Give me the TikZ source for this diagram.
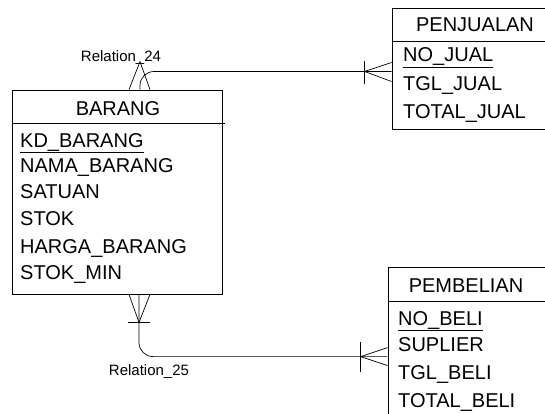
\documentclass[tikz,border=0pt]{standalone}
\usepackage{fontspec}
\setmainfont{Liberation Sans}
\tikzset{
  entity/.style={draw,rectangle,inner sep=0pt,line width=0.8pt},
  attr/.style={anchor=base west,inner sep=0pt,font=\fontsize{20}{22}\selectfont},
  etitle/.style={anchor=base,inner sep=0pt,font=\fontsize{20}{22}\selectfont},
  rlabel/.style={inner sep=0pt,font=\fontsize{15}{17}\selectfont},
  link/.style={line width=0.7pt,rounded corners=14pt},
  foot/.style={line width=0.7pt}
}
\begin{document}
\begin{tikzpicture}[x=1pt,y=-1pt]
\useasboundingbox (0,0) rectangle (545,414);
\clip (0,0) rectangle (545,414);
\node[entity,minimum width=210pt,minimum height=204pt] (barang) at (117,192) {};
\draw[line width=0.8pt] (12,123) -- (225,123);
\node[etitle] (barangt) at (118,116) {BARANG};
\node[attr] (kdbarang) at (20,147) {\underline{KD\_BARANG}};
\node[attr] (namabarang) at (20,172) {NAMA\_BARANG};
\node[attr] (satuan) at (20,198) {SATUAN};
\node[attr] (stok) at (20,225) {STOK};
\node[attr] (hargabarang) at (20,253) {HARGA\_BARANG};
\node[attr] (stokmin) at (20,279) {STOK\_MIN};
\node[entity,minimum width=168pt,minimum height=121pt] (penjualan) at (476,68.5) {};
\draw[line width=0.8pt] (392,41) -- (560,41);
\node[etitle] (penjualant) at (475,32) {PENJUALAN};
\node[attr] (nojual) at (403,62) {\underline{NO\_JUAL}};
\node[attr] (tgljual) at (403,91) {TGL\_JUAL};
\node[attr] (totaljual) at (403,119) {TOTAL\_JUAL};
\node[entity,minimum width=162pt,minimum height=173pt] (pembelian) at (469,353.5) {};
\draw[line width=0.8pt] (388,301) -- (550,301);
\node[etitle] (pembeliant) at (466,292) {PEMBELIAN};
\node[attr] (nobeli) at (398,325) {\underline{NO\_BELI}};
\node[attr] (suplier) at (398,351) {SUPLIER};
\node[attr] (tglbeli) at (398,379) {TGL\_BELI};
\node[attr] (totalbeli) at (398,407) {TOTAL\_BELI};
\coordinate (j24) at ([yshift=-3pt]penjualan.west);
\coordinate (b24) at ([xshift=23pt]barang.north);
\draw[link] (j24) -| (b24);
\draw[foot] ([xshift=-11pt]b24) -- ([yshift=28pt]b24) -- ([xshift=10pt]b24);
\draw[foot] ([yshift=9pt]j24) -- ([xshift=-27pt]j24) -- ([yshift=-10pt]j24);
\draw[foot] ([xshift=-27pt,yshift=10pt]j24) -- ([xshift=-27pt,yshift=-13pt]j24);
\node[rlabel] (rel24) at (121,58) {Relation\_24};
\coordinate (b25) at ([xshift=22pt]barang.south);
\coordinate (p25) at ([yshift=-90pt]pembelian.north west);
\draw[link] (b25) |- (p25);
\draw[foot] ([xshift=-10pt]b25) -- ([yshift=-28pt]b25) -- ([xshift=11pt]b25);
\draw[foot] ([xshift=-11pt,yshift=-28pt]b25) -- ([xshift=11pt,yshift=-28pt]b25);
\draw[foot] ([yshift=9pt]p25) -- ([xshift=-27pt]p25) -- ([yshift=-9pt]p25);
\draw[foot] ([xshift=-27pt,yshift=15pt]p25) -- ([xshift=-27pt,yshift=-15pt]p25);
\node[rlabel] (rel25) at (149,372) {Relation\_25};
\end{tikzpicture}
\end{document}
